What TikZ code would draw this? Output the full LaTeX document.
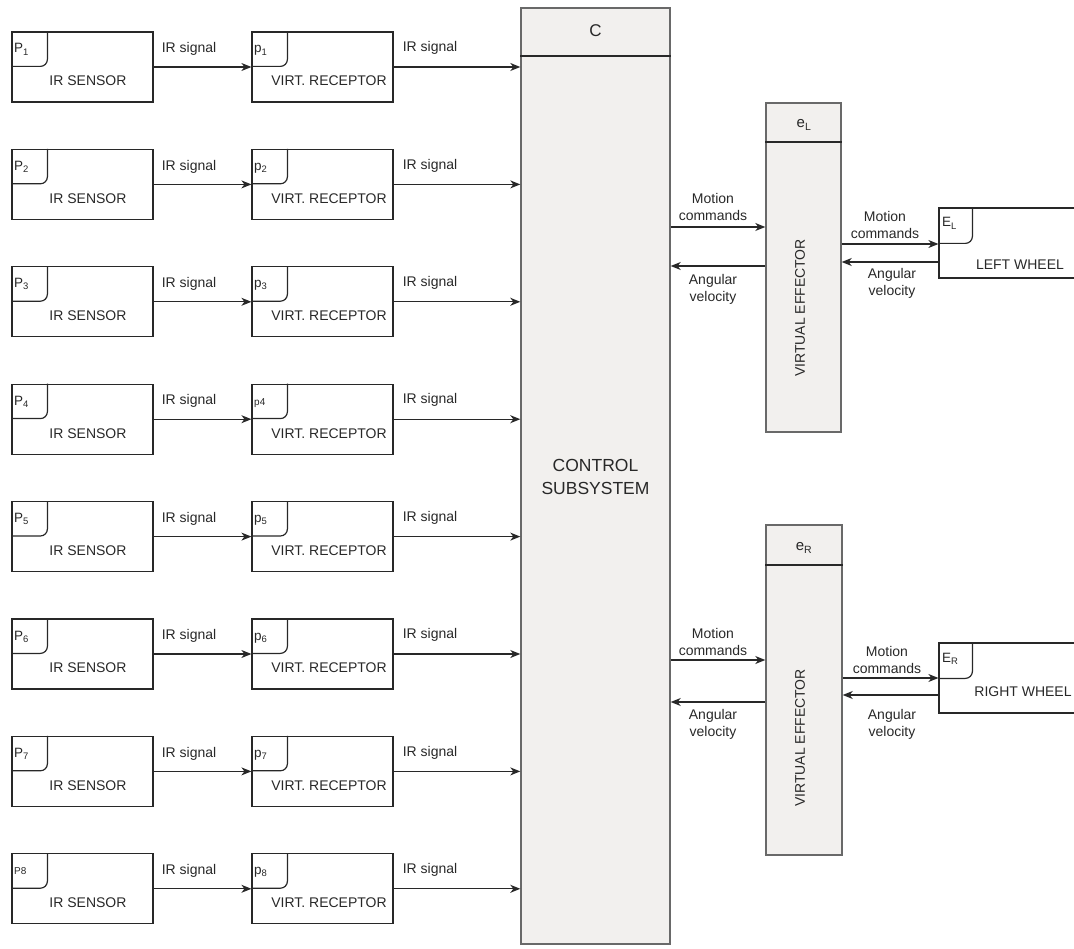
\documentclass[tikz,border=0pt]{standalone}
\usepackage{fontspec}
\setmainfont{Liberation Sans}
\usetikzlibrary{arrows.meta, calc, positioning}
\definecolor{BlockFill}{RGB}{242,240,238}
\definecolor{LineGrey}{RGB}{105,105,105}
\definecolor{Ink}{RGB}{40,40,40}
\tikzset{
  >={Stealth[length=10pt,width=8pt,inset=3pt]},
  % blocchi
  unitbox/.style={draw=Ink,line width=1.2pt,minimum width=141pt,minimum height=70pt,inner sep=0pt},
  wheelbox/.style={unitbox,minimum width=170pt},
  blockbox/.style={draw=LineGrey,fill=BlockFill,line width=1.4pt,inner sep=0pt},
  tagline/.style={draw=Ink,line width=1.2pt,rounded corners=7pt},
  % testi
  txt/.style={font=\fontsize{14}{17}\selectfont,text=Ink,inner sep=0pt,align=center},
  taglbl/.style={font=\fontsize{13.5}{13.5}\selectfont,text=Ink,inner sep=0pt,anchor=base west},
  % connessioni
  sig/.style={->,line width=1.2pt,draw=Ink}
}

\begin{document}
\begin{tikzpicture}[x=1pt,y=-1pt]
  \useasboundingbox (0,0) rectangle (1074,949);
  \clip (0,0) rectangle (1074,949);
  % sottosistema di controllo
  \node[blockbox,minimum width=149pt,minimum height=936pt] (ctrl) at (595.5,476) {};
  \draw[draw=Ink,line width=1.2pt] (ctrl.west |- 0,56) -- (ctrl.east |- 0,56);
  \node[txt,font=\fontsize{17}{20}\selectfont] (ctrlh) at (595.5,31) {C};
  \node[txt,font=\fontsize{17.5}{23.5}\selectfont] (ctrlt) at (595.5,477) {CONTROL\\SUBSYSTEM};
  % sensori IR e recettori virtuali
  \foreach \i/\ps/\pr in {1/P\textsubscript{1}/p\textsubscript{1},
                          2/P\textsubscript{2}/p\textsubscript{2},
                          3/P\textsubscript{3}/p\textsubscript{3},
                          4/P\textsubscript{4}/{\fontsize{10}{10}\selectfont p4},
                          5/P\textsubscript{5}/p\textsubscript{5},
                          6/P\textsubscript{6}/p\textsubscript{6},
                          7/P\textsubscript{7}/p\textsubscript{7},
                          8/{\fontsize{10}{10}\selectfont P8}/p\textsubscript{8}} {
    \pgfmathsetmacro\yt{32+(\i-1)*117.4}
    \node[unitbox] (s\i) at (82.5,\yt+35) {};
    \draw[tagline] (s\i.north west) ++(0,35) -| ++(36,-35);
    \node[taglbl] (ps\i) at (14,\yt+21) {\ps};
    \node[txt] (st\i) at (88,\yt+49) {IR SENSOR};
    \node[unitbox] (r\i) at (322.5,\yt+35) {};
    \draw[tagline] (r\i.north west) ++(0,35) -| ++(36,-35);
    \node[taglbl] (pr\i) at (254,\yt+21) {\pr};
    \node[txt] (rt\i) at (329,\yt+49) {VIRT. RECEPTOR};
    \draw[sig] (s\i) -- (r\i);
    \draw[sig] (r\i) -- (r\i.east -| ctrl.west);
    \node[txt] (ls\i) at (189,\yt+17) {IR signal};
    \node[txt] (lr\i) at (430,\yt+16) {IR signal};
  }
  % effettore virtuale sinistro
  \node[blockbox,minimum width=75pt,minimum height=329pt] (eL) at (803.5,267.5) {};
  \draw[draw=Ink,line width=1.2pt] (eL.west |- 0,142) -- (eL.east |- 0,142);
  \node[txt,font=\fontsize{15}{17}\selectfont] (eLh) at (804,125) {e\textsubscript{L}};
  \node[txt,rotate=90] (eLt) at (800,308) {VIRTUAL EFFECTOR};
  % effettore virtuale destro
  \node[blockbox,minimum width=76pt,minimum height=330pt] (eR) at (804,690) {};
  \draw[draw=Ink,line width=1.2pt] (eR.west |- 0,565) -- (eR.east |- 0,565);
  \node[txt,font=\fontsize{15}{17}\selectfont] (eRh) at (804,548) {e\textsubscript{R}};
  \node[txt,rotate=90] (eRt) at (800,738) {VIRTUAL EFFECTOR};
  % ruote
  \node[wheelbox] (wL) at (1024,243) {};
  \draw[tagline] (wL.north west) ++(0,36) -| ++(34,-36);
  \node[taglbl] (pwL) at (942,227) {E\textsubscript{L}};
  \node[txt] (wLt) at (1020,265) {LEFT WHEEL};
  \node[wheelbox] (wR) at (1024,678) {};
  \draw[tagline] (wR.north west) ++(0,36) -| ++(34,-36);
  \node[taglbl] (pwR) at (942,662) {E\textsubscript{R}};
  \node[txt] (wRt) at (1023,692) {RIGHT WHEEL};
  % comandi e velocita
  \draw[sig] (ctrl.east |- 0,227) -- (eL.west |- 0,227);
  \draw[sig] (eL.west |- 0,266) -- (ctrl.east |- 0,266);
  \draw[sig] (eL.east |- 0,244) -- (wL.west |- 0,244);
  \draw[sig] (wL.west |- 0,262) -- (eL.east |- 0,262);
  \draw[sig] (ctrl.east |- 0,660) -- (eR.west |- 0,660);
  \draw[sig] (eR.west |- 0,702) -- (ctrl.east |- 0,702);
  \draw[sig] (eR.east |- 0,678) -- (wR.west |- 0,678);
  \draw[sig] (wR.west |- 0,695) -- (eR.east |- 0,695);
  \node[txt] (mcL) at (713,207) {Motion\\commands};
  \node[txt] (avL) at (713,289) {Angular\\velocity};
  \node[txt] (mcwL) at (885,225) {Motion\\commands};
  \node[txt] (avwL) at (892,283) {Angular\\velocity};
  \node[txt] (mcR) at (713,642) {Motion\\commands};
  \node[txt] (avR) at (713,724) {Angular\\velocity};
  \node[txt] (mcwR) at (887,660) {Motion\\commands};
  \node[txt] (avwR) at (892,724) {Angular\\velocity};
\end{tikzpicture}
\end{document}
